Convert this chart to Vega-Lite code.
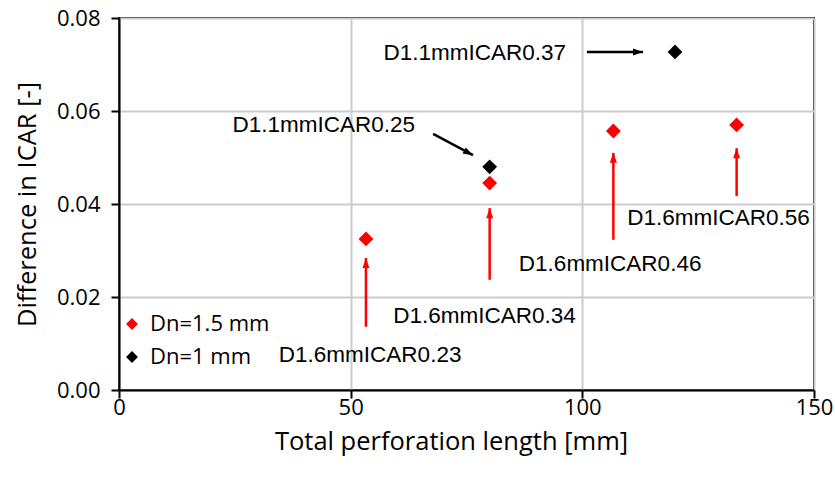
{
  "$schema": "https://vega.github.io/schema/vega-lite/v6.json",
  "width": 695,
  "height": 372,
  "autosize": {"type": "none"},
  "padding": {"left": 119, "top": 18, "right": 21, "bottom": 89},
  "config": {
    "view": {"stroke": "#000000", "strokeWidth": 2},
    "font": "Open Sans",
    "axis": {
      "labelFont": "Open Sans",
      "labelFontSize": 22,
      "labelColor": "#000000",
      "labelFlush": false,
      "titleFont": "Open Sans",
      "titleFontSize": 25.5,
      "titleFontWeight": "normal",
      "titleColor": "#000000",
      "domainColor": "#000000",
      "domainWidth": 2,
      "tickColor": "#000000",
      "tickWidth": 2,
      "tickSize": 8,
      "gridColor": "#cccccc",
      "gridWidth": 2
    }
  },
  "datasets": {
    "points": [
      {"length": 53.3, "diff": 0.0325, "series": "Dn=1.5 mm"},
      {"length": 80.0, "diff": 0.0445, "series": "Dn=1.5 mm"},
      {"length": 106.7, "diff": 0.0557, "series": "Dn=1.5 mm"},
      {"length": 133.3, "diff": 0.0570, "series": "Dn=1.5 mm"},
      {"length": 80.0, "diff": 0.0480, "series": "Dn=1 mm"},
      {"length": 120.0, "diff": 0.0727, "series": "Dn=1 mm"}
    ],
    "redArrows": [
      {"x": 53.3, "y": 0.0136, "x2": 53.3, "y2": 0.0284},
      {"x": 80.0, "y": 0.0237, "x2": 80.0, "y2": 0.0391},
      {"x": 106.7, "y": 0.0323, "x2": 106.7, "y2": 0.0510},
      {"x": 133.3, "y": 0.0417, "x2": 133.3, "y2": 0.0520}
    ],
    "blackRight": [
      {"x": 101.0, "y": 0.0727, "x2": 113.1, "y2": 0.0727}
    ],
    "blackDiag": [
      {"x": 67.8, "y": 0.0551, "x2": 76.4, "y2": 0.0505}
    ],
    "labels": [
      {"x": 76.8, "y": 0.0725, "text": "D1.1mmICAR0.37"},
      {"x": 44.2, "y": 0.0570, "text": "D1.1mmICAR0.25"},
      {"x": 129.4, "y": 0.0370, "text": "D1.6mmICAR0.56"},
      {"x": 106.0, "y": 0.0271, "text": "D1.6mmICAR0.46"},
      {"x": 78.9, "y": 0.0159, "text": "D1.6mmICAR0.34"},
      {"x": 54.2, "y": 0.0075, "text": "D1.6mmICAR0.23"}
    ]
  },
  "layer": [
    {
      "data": {"name": "points"},
      "mark": {"type": "point", "filled": true, "shape": "diamond", "size": 220, "opacity": 1},
      "encoding": {
        "x": {
          "field": "length", "type": "quantitative",
          "scale": {"domain": [0, 150], "nice": false},
          "axis": {"values": [0, 50, 100, 150], "title": "Total perforation length [mm]", "labelPadding": -1, "titlePadding": 11, "titleX": 332, "titleAnchor": null, "titleAlign": "center"}
        },
        "y": {
          "field": "diff", "type": "quantitative",
          "scale": {"domain": [0, 0.08], "nice": false},
          "axis": {"values": [0, 0.02, 0.04, 0.06, 0.08], "format": ".2f", "title": "Difference in ICAR [-]", "labelPadding": 11, "titlePadding": 16}
        },
        "color": {
          "field": "series", "type": "nominal",
          "scale": {"domain": ["Dn=1.5 mm", "Dn=1 mm"], "range": ["#ff0000", "#000000"]},
          "legend": {
            "orient": "none", "legendX": 2, "legendY": 295, "title": null,
            "labelFont": "Open Sans", "labelFontSize": 22, "labelColor": "#000000",
            "symbolType": "diamond", "symbolSize": 140, "symbolStrokeWidth": 0,
            "rowPadding": 11, "labelOffset": 7
          }
        }
      }
    },
    {
      "data": {"name": "redArrows"},
      "mark": {"type": "rule", "color": "#ff0000", "strokeWidth": 2.5},
      "encoding": {
        "x": {"field": "x", "type": "quantitative"},
        "y": {"field": "y", "type": "quantitative"},
        "x2": {"field": "x2"},
        "y2": {"field": "y2"}
      }
    },
    {
      "data": {"name": "redArrows"},
      "mark": {"type": "point", "filled": true, "opacity": 1, "color": "#ff0000", "shape": "M0,0L-0.7,2L0.7,2Z", "size": 100, "angle": 0},
      "encoding": {
        "x": {"field": "x2", "type": "quantitative"},
        "y": {"field": "y2", "type": "quantitative"}
      }
    },
    {
      "data": {"name": "blackRight"},
      "mark": {"type": "rule", "color": "#000000", "strokeWidth": 2.5},
      "encoding": {
        "x": {"field": "x", "type": "quantitative"},
        "y": {"field": "y", "type": "quantitative"},
        "x2": {"field": "x2"},
        "y2": {"field": "y2"}
      }
    },
    {
      "data": {"name": "blackRight"},
      "mark": {"type": "point", "filled": true, "opacity": 1, "color": "#000000", "shape": "M0,0L-0.7,2L0.7,2Z", "size": 100, "angle": 90},
      "encoding": {
        "x": {"field": "x2", "type": "quantitative"},
        "y": {"field": "y2", "type": "quantitative"}
      }
    },
    {
      "data": {"name": "blackDiag"},
      "mark": {"type": "rule", "color": "#000000", "strokeWidth": 2.5},
      "encoding": {
        "x": {"field": "x", "type": "quantitative"},
        "y": {"field": "y", "type": "quantitative"},
        "x2": {"field": "x2"},
        "y2": {"field": "y2"}
      }
    },
    {
      "data": {"name": "blackDiag"},
      "mark": {"type": "point", "filled": true, "opacity": 1, "color": "#000000", "shape": "M0,0L-0.7,2L0.7,2Z", "size": 100, "angle": 118},
      "encoding": {
        "x": {"field": "x2", "type": "quantitative"},
        "y": {"field": "y2", "type": "quantitative"}
      }
    },
    {
      "data": {"name": "labels"},
      "mark": {"type": "text", "font": "Liberation Sans", "fontSize": 22.5, "color": "#000000", "align": "center", "baseline": "middle"},
      "encoding": {
        "x": {"field": "x", "type": "quantitative"},
        "y": {"field": "y", "type": "quantitative"},
        "text": {"field": "text"}
      }
    }
  ]
}
